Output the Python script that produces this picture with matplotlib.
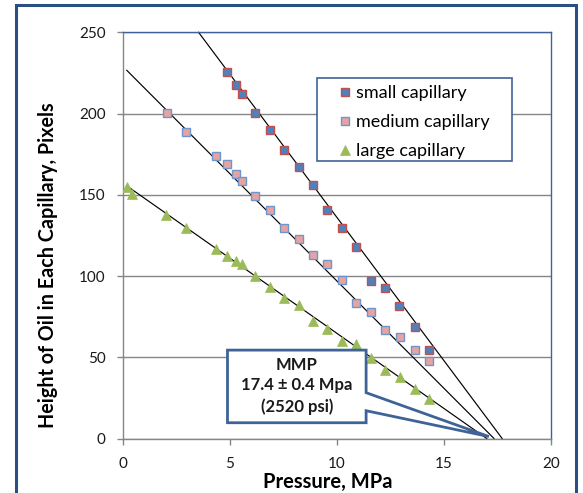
import matplotlib
matplotlib.use("Agg")
import matplotlib.pyplot as plt
from matplotlib.patches import Rectangle, Polygon

plt.rcParams['font.family'] = ['Lato', 'DejaVu Sans']

# ---- data ----
small_x = [4.87, 5.30, 5.57, 6.19, 6.89, 7.56, 8.24, 8.88, 9.56, 10.26, 10.90, 11.60, 12.27, 12.92, 13.65, 14.29]
small_y = [225.6, 217.8, 211.9, 200.6, 189.7, 177.4, 166.8, 155.9, 140.5, 129.6, 118.0, 97.0, 92.7, 81.5, 68.8, 54.4]

medium_x = [2.07, 2.97, 4.37, 4.87, 5.30, 5.57, 6.19, 6.89, 7.56, 8.24, 8.88, 9.56, 10.23, 10.90, 11.60, 12.27, 12.95, 13.65, 14.30]
medium_y = [200.6, 188.7, 173.7, 168.8, 162.7, 158.5, 149.3, 140.5, 129.6, 122.7, 112.9, 107.7, 97.5, 83.5, 78.0, 66.7, 62.6, 54.4, 47.8]

large_x = [0.21, 0.44, 2.04, 2.97, 4.37, 4.87, 5.30, 5.57, 6.19, 6.89, 7.54, 8.24, 8.88, 9.56, 10.23, 10.90, 11.60, 12.27, 12.95, 13.65, 14.32]
large_y = [154.5, 150.4, 137.5, 129.3, 116.8, 112.2, 109.2, 107.7, 99.9, 93.4, 86.2, 82.1, 72.4, 67.1, 60.1, 58.1, 49.5, 42.2, 37.6, 30.3, 24.3]

# trendlines: start point and x where each line reaches zero
trend_start_x = [3.55, 0.2, 0.2]
trend_start_y = [250.0, 226.6, 155.5]
trend_zero_x = [17.72, 17.34, 17.00]

series_labels = ["small capillary", "medium capillary", "large capillary"]
x_ticks = [0, 5, 10, 15, 20]
y_ticks = [0, 50, 100, 150, 200, 250]
mmp_text = ["MMP", "17.4 \u00b1 0.4 Mpa", "(2520 psi)"]

# ---- figure ----
W, H = 583, 493
fig = plt.figure(figsize=(W / 100, H / 100), dpi=100)
fig.patch.set_facecolor("white")


def fx(px):
    return px / W


def fy(py):
    return 1 - py / H


# outer frame
fig.patches.append(Rectangle((fx(16), -0.05), (576 - 16) / W, 1.05 - 5 / H,
                             transform=fig.transFigure, fill=False,
                             edgecolor="#2a4f82", linewidth=2.2, zorder=0))

ax = fig.add_axes([fx(122.5), fy(438.5), (551 - 122.5) / W, (438.5 - 32.3) / H])
ax.set_xlim(0, 20)
ax.set_ylim(0, 250)
ax.set_xticks(x_ticks)
ax.set_yticks(y_ticks)

gray = "#868686"
for s in ["left", "bottom"]:
    ax.spines[s].set_color(gray)
    ax.spines[s].set_linewidth(1.0)
for s in ["top", "right"]:
    ax.spines[s].set_color("#3f6396")
    ax.spines[s].set_linewidth(1.0)
ax.tick_params(axis="both", direction="out", length=4, width=1, color=gray,
               labelsize=11, labelcolor="#1a1a1a")
ax.tick_params(axis="y", pad=8)
ax.tick_params(axis="x", pad=9)
ax.yaxis.grid(True, color=gray, linewidth=1.0)
ax.set_axisbelow(True)

# trendlines
for x0, y0, xz in zip(trend_start_x, trend_start_y, trend_zero_x):
    ax.plot([x0, xz], [y0, 0], color="black", linewidth=0.85, zorder=2, clip_on=False)

# markers
ax.plot(small_x, small_y, linestyle="none", marker="s", markersize=6.3,
        markerfacecolor="#4f81bd", markeredgecolor="#c0504d", markeredgewidth=1.0,
        label=series_labels[0], zorder=3)
ax.plot(medium_x, medium_y, linestyle="none", marker="s", markersize=6.3,
        markerfacecolor="#e6a3a1", markeredgecolor="#6e96cc", markeredgewidth=1.0,
        label=series_labels[1], zorder=3)
ax.plot(large_x, large_y, linestyle="none", marker="^", markersize=7.0,
        markerfacecolor="#9bbb59", markeredgecolor="#9bbb59", markeredgewidth=0.5,
        label=series_labels[2], zorder=3)

# legend frame drawn separately, legend itself frameless
leg_box = Rectangle((fx(317.3), fy(160.7)), (512.3 - 317.3) / W, (160.7 - 78.3) / H,
                    facecolor="white", edgecolor="#3f6396", linewidth=1.2, zorder=5)
ax.add_patch(leg_box)
leg_box.set_transform(fig.transFigure)
leg = ax.legend(loc="upper left", bbox_to_anchor=(fx(338.1), fy(85.3)),
                bbox_transform=fig.transFigure,
                frameon=False, fontsize=13, handlelength=0.76,
                handletextpad=0.24, borderpad=0, labelspacing=0.72, markerscale=1.0,
                borderaxespad=0)
leg.set_zorder(6)

# callout
bx0, bx1, by0, by1 = 4.90, 11.37, 9.7, 54.4
callout = Polygon([(bx0, by0), (bx0, by1), (bx1, by1), (bx1, 28.2), (17.1, 1.2),
                   (bx1, 17.1), (bx1, by0)], closed=True, facecolor="white",
                  edgecolor="#3f6396", linewidth=2.0, zorder=4, joinstyle="miter")
ax.add_patch(callout)
ax.text((bx0 + bx1) / 2, (by0 + by1) / 2 + 0.5, "\n".join(mmp_text), ha="center", va="center",
        fontsize=12, fontweight="bold", color="#1a1a1a", linespacing=1.35, zorder=5)

ax.set_xlabel("Pressure, MPa", fontsize=14.5, fontweight="bold", va="center")
ax.xaxis.set_label_coords(0.4796, -0.106)
ax.set_ylabel("Height of Oil in Each Capillary, Pixels", fontsize=14.2, fontweight="bold", va="center")
ax.yaxis.set_label_coords(-0.174, 0.427)

fig.savefig("out.png", dpi=100)
